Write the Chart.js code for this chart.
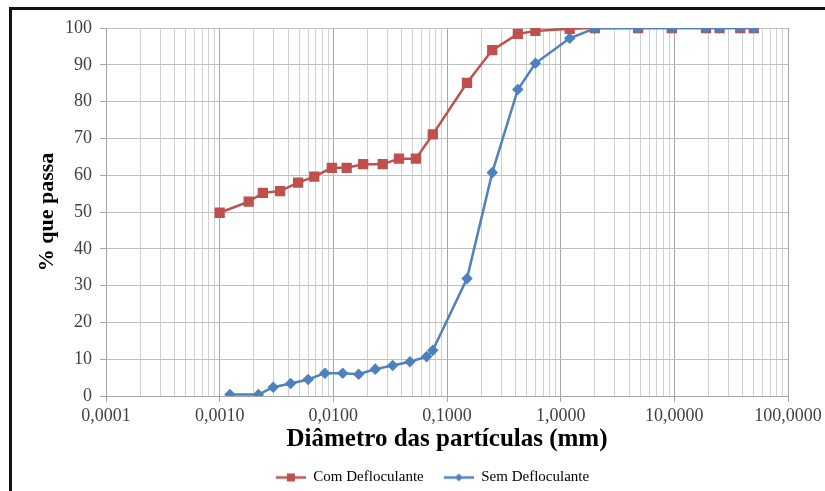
<!DOCTYPE html>
<html>
<head>
<meta charset="utf-8">
<script src="https://cdn.jsdelivr.net/npm/chart.js@4.4.1/dist/chart.umd.min.js"></script>
<style>
  body { margin: 0; background: #fff; }
  canvas { display: block; }
</style>
</head>
<body>
<canvas id="granChart" width="825" height="491"></canvas>
<script>
// Particle size curve data
const comDiameters = [0.0010, 0.0018, 0.0024, 0.0034, 0.0049, 0.0068, 0.0097, 0.0131, 0.0183, 0.0272, 0.0378, 0.0532, 0.075, 0.15, 0.25, 0.42, 0.6, 1.2, 2.0, 4.8, 9.5, 19, 25, 38, 50];
const comPassing = [49.8, 52.8, 55.2, 55.7, 58.0, 59.6, 62.0, 62.0, 63.0, 63.0, 64.5, 64.5, 71.1, 85.1, 94.0, 98.4, 99.2, 99.8, 100, 100, 100, 100, 100, 100, 100];

const semDiameters = [0.00123, 0.00219, 0.00296, 0.00421, 0.0060, 0.00843, 0.0121, 0.0167, 0.0234, 0.0333, 0.0472, 0.0662, 0.075, 0.15, 0.25, 0.42, 0.6, 1.2, 2.0, 4.8, 9.5, 19, 25, 38, 50];
const semPassing = [0.4, 0.4, 2.4, 3.4, 4.5, 6.2, 6.2, 5.9, 7.3, 8.3, 9.3, 10.7, 12.4, 31.9, 60.7, 83.3, 90.4, 97.2, 99.9, 100, 100, 100, 100, 100, 100];

const decades = [0.0001, 0.001, 0.01, 0.1, 1, 10, 100];
const decadeLabels = ['0,0001', '0,0010', '0,0100', '0,1000', '1,0000', '10,0000', '100,0000'];

const RED = '#c0504d';
const BLUE = '#4f81bd';
const SERIF = '"Liberation Serif", "Times New Roman", serif';

const toPoints = (xs, ys) => xs.map((x, i) => ({ x: x, y: ys[i] }));

const isDecade = v => decades.some(d => Math.abs(d - v) < d * 1e-6);

// grid lines at 1..9 of every decade
function logGridTicks() {
  const ticks = [];
  for (let i = 0; i < decades.length - 1; i++) {
    for (let m = 1; m <= 9; m++) {
      ticks.push({ value: parseFloat((m * decades[i]).toPrecision(6)) });
    }
  }
  ticks.push({ value: decades[decades.length - 1] });
  return ticks;
}

// small line+marker icons for the legend (Excel style)
function legendIcon(color, shape) {
  const c = document.createElement('canvas');
  c.width = 45; c.height = 12;
  const g = c.getContext('2d');
  g.strokeStyle = color;
  g.lineWidth = 2.5;
  g.beginPath();
  g.moveTo(15, 6);
  g.lineTo(45, 6);
  g.stroke();
  g.fillStyle = color;
  if (shape === 'rect') {
    g.fillRect(26, 2, 8, 8);
  } else {
    g.beginPath();
    g.moveTo(30, 2); g.lineTo(34, 6); g.lineTo(30, 10); g.lineTo(26, 6);
    g.closePath();
    g.fill();
  }
  return c;
}

// white background + black frame at top/left
const framePlugin = {
  id: 'framePlugin',
  beforeDraw(chart) {
    const { ctx, width, height } = chart;
    ctx.save();
    ctx.fillStyle = '#fff';
    ctx.fillRect(0, 0, width, height);
    ctx.fillStyle = '#111';
    ctx.fillRect(9, 7, width - 9, 3);
    ctx.fillRect(9, 7, 3, height - 7);
    ctx.restore();
  }
};

const redIcon = legendIcon(RED, 'rect');
const blueIcon = legendIcon(BLUE, 'diamond');

new Chart(document.getElementById('granChart'), {
  type: 'scatter',
  data: {
    datasets: [
      {
        label: 'Com Defloculante',
        data: toPoints(comDiameters, comPassing),
        showLine: true,
        borderColor: RED,
        backgroundColor: RED,
        borderWidth: 2.5,
        pointStyle: 'rect',
        pointRadius: 5.5,
        pointHoverRadius: 5.5,
        order: 1
      },
      {
        label: 'Sem Defloculante',
        data: toPoints(semDiameters, semPassing),
        showLine: true,
        borderColor: BLUE,
        backgroundColor: BLUE,
        borderWidth: 2.5,
        pointStyle: 'rectRot',
        pointRadius: 4,
        pointHoverRadius: 4,
        order: 0
      }
    ]
  },
  options: {
    responsive: false,
    animation: false,
    layout: {
      padding: { top: 28, right: 37, bottom: 0, left: 62 }
    },
    scales: {
      x: {
        type: 'logarithmic',
        min: 0.0001,
        max: 100,
        afterBuildTicks: scale => { scale.ticks = logGridTicks(); },
        afterFit: scale => { scale.height = 69; },
        grid: {
          color: ctx => isDecade(ctx.tick.value) ? '#a6a6a6' : '#d0d0d0',
          tickColor: ctx => isDecade(ctx.tick.value) ? '#a6a6a6' : 'rgba(0,0,0,0)',
          tickLength: 6,
          lineWidth: 1
        },
        border: { color: '#a6a6a6' },
        ticks: {
          autoSkip: false,
          maxRotation: 0,
          padding: 3,
          color: '#404040',
          font: { family: SERIF, size: 18 },
          callback: value => {
            const i = decades.findIndex(d => Math.abs(d - value) < d * 1e-6);
            return i >= 0 ? decadeLabels[i] : '';
          }
        },
        title: {
          display: true,
          text: 'Diâmetro das partículas (mm)',
          color: '#000',
          font: { family: SERIF, size: 25, weight: 'bold' },
          padding: { top: 0, bottom: 10 }
        }
      },
      y: {
        min: 0,
        max: 100,
        afterFit: scale => { scale.width = 44; },
        grid: {
          color: '#bfbfbf',
          tickColor: '#a6a6a6',
          tickLength: 6
        },
        border: { color: '#a6a6a6' },
        ticks: {
          stepSize: 10,
          padding: 8,
          color: '#404040',
          font: { family: SERIF, size: 18 }
        },
        title: {
          display: true,
          text: '% que passa',
          color: '#000',
          font: { family: SERIF, size: 22, weight: 'bold' },
          padding: { top: -28, bottom: 0 }
        }
      }
    },
    plugins: {
      legend: {
        position: 'bottom',
        maxHeight: 26,
        labels: {
          usePointStyle: true,
          pointStyleWidth: 45,
          padding: 5,
          color: '#000',
          font: { family: SERIF, size: 15 },
          generateLabels: () => [
            { text: 'Com Defloculante', pointStyle: redIcon, fillStyle: RED, strokeStyle: RED, lineWidth: 0, datasetIndex: 0 },
            { text: 'Sem Defloculante', pointStyle: blueIcon, fillStyle: BLUE, strokeStyle: BLUE, lineWidth: 0, datasetIndex: 1 }
          ]
        }
      },
      tooltip: { enabled: false }
    }
  },
  plugins: [framePlugin]
});
</script>
</body>
</html>
